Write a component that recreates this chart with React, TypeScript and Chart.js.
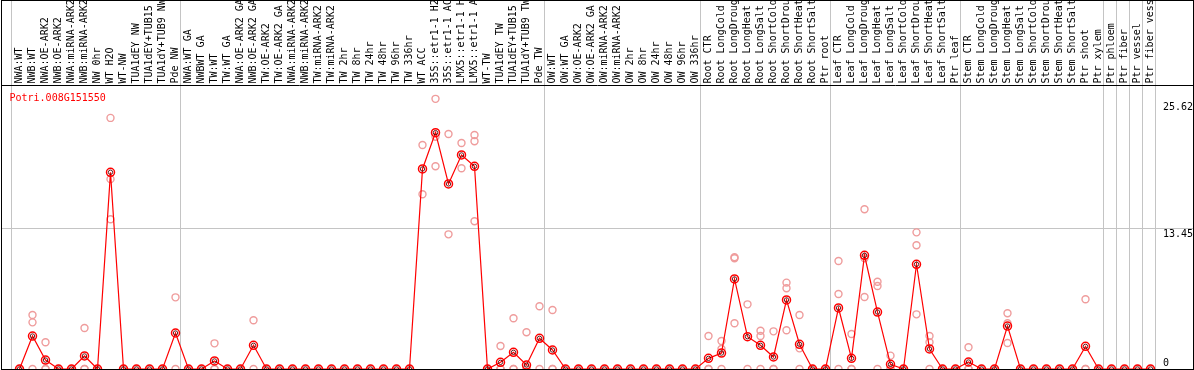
import React, { useEffect, useRef } from "react";
import { Chart, registerables } from "chart.js";

Chart.register(...registerables);

const n = null;

const geneId = "Potri.008G151550";

const categories = [
  "NWA:WT", "NWB:WT", "NWA:OE-ARK2", "NWB:OE-ARK2", "NWA:miRNA-ARK2", "NWB:miRNA-ARK2",
  "NW 0hr", "WT H2O", "WT-NW", "TUA1dEY NW", "TUA1dEY+TUB15", "TUA1dY+TUB9 NW", "Pde NW",
  "NWA:WT GA", "NWBWT GA", "TW:WT", "TW:WT GA", "NWA:OE-ARK2 GA", "NWB:OE-ARK2 GA",
  "TW:OE-ARK2", "TW:OE-ARK2 GA", "NWA:miRNA-ARK2", "NWB:miRNA-ARK2", "TW:miRNA-ARK2",
  "TW:miRNA-ARK2", "TW 2hr", "TW 8hr", "TW 24hr", "TW 48hr", "TW 96hr", "TW 336hr",
  "WT ACC", "35S::etr1-1 H2", "35S::etr1-1 AC", "LMX5::etr1-1 H", "LMX5::etr1-1 A",
  "WT-TW", "TUA1dEY TW", "TUA1dEY+TUB15", "TUA1dY+TUB9 TW", "Pde TW",
  "OW:WT", "OW:WT GA", "OW:OE-ARK2", "OW:OE-ARK2 GA", "OW:miRNA-ARK2", "OW:miRNA-ARK2",
  "OW 2hr", "OW 8hr", "OW 24hr", "OW 48hr", "OW 96hr", "OW 336hr",
  "Root CTR", "Root LongCold", "Root LongDroug", "Root LongHeat", "Root LongSalt",
  "Root ShortCold", "Root ShortDrou", "Root ShortHeat", "Root ShortSalt", "Ptr root",
  "Leaf CTR", "Leaf LongCold", "Leaf LongDroug", "Leaf LongHeat", "Leaf LongSalt",
  "Leaf ShortCold", "Leaf ShortDrou", "Leaf ShortHeat", "Leaf ShortSalt", "Ptr leaf",
  "Stem CTR", "Stem LongCold", "Stem LongDroug", "Stem LongHeat", "Stem LongSalt",
  "Stem ShortCold", "Stem ShortDrou", "Stem ShortHeat", "Stem ShortSalt", "Ptr shoot",
  "Ptr xylem", "Ptr phloem", "Ptr fiber", "Ptr vessel", "Ptr fiber vess",
];

// indices where a new group of samples starts (separator lines)
const groupBreaks = [0, 13, 41, 53, 63, 73, 84, 85, 86, 87, 88];

const meanValues = [
  0, 3.16, 0.86, 0, 0, 1.25, 0, 18.86, 0, 0,
  0, 0, 3.45, 0, 0, 0.77, 0, 0, 2.27, 0,
  0, 0, 0, 0, 0, 0, 0, 0, 0, 0,
  0, 19.18, 22.66, 17.74, 20.52, 19.43, 0, 0.64, 1.6, 0.38,
  2.94, 1.82, 0, 0, 0, 0, 0, 0, 0, 0,
  0, 0, 0, 1.02, 1.53, 8.63, 3.1, 2.27, 1.15, 6.62,
  2.37, 0, 0, 5.85, 1.02, 10.9, 5.46, 0.45, 0, 10.04,
  1.92, 0, 0, 0.67, 0, 0, 4.12, 0, 0, 0,
  0, 0, 2.17, 0, 0, 0, 0, 0,
];

const rep1 = [
  0, 5.18, 2.56, 0, 0, 3.93, 0, 24.07, 0, 0,
  0, 0, 6.87, 0, 0, 2.46, 0, 0, 4.67, 0,
  0, 0, 0, 0, 0, 0, 0, 0, 0, 0,
  0, 21.48, 25.9, 22.53, 21.67, 22.43, 0, 2.2, 4.86, 3.52,
  6.01, 5.66, 0, 0, 0, 0, 0, 0, 0, 0,
  0, 0, 0, 3.16, 2.68, 10.71, 6.2, 3.67, 3.61, 8.28,
  5.18, 0, 0, 10.35, 3.36, 15.31, 8.37, 1.28, 0, 13.1,
  3.16, 0, 0, 2.08, 0, 0, 5.34, 0, 0, 0,
  0, 0, 6.68, 0, 0, 0, 0, 0,
];

const rep2 = [
  n, 4.47, 0, n, n, 0, n, 18.2, n, n,
  n, n, 0, n, n, 0, n, n, 0, n,
  n, n, n, n, n, n, n, n, n, n,
  n, 16.75, 22.27, 12.91, 19.24, 21.83, n, 0, 0, 0,
  0, 0, n, n, n, n, n, n, n, n,
  n, n, n, 0, 1.92, 10.61, 0, 3.16, 0, 7.74,
  1.98, n, n, 7.19, 0, 10.61, 7.96, 0, n, 11.86,
  2.56, n, n, 0, n, n, 4.38, n, n, n,
  n, n, 0, n, n, n, n, n,
];

const rep3 = [
  n, 0, 0, n, n, 0, n, 14.35, n, n,
  n, n, n, n, n, 0, n, n, n, n,
  n, n, n, n, n, n, n, n, n, n,
  n, n, 19.43, n, n, 14.16, n, 0, 0, 0,
  n, 0, n, n, n, n, n, n, n, n,
  n, n, n, 0, 0, 4.38, n, 0, 0, 3.71,
  0, n, n, 0, 0, 6.9, 0, 0, n, 5.24,
  0, n, n, 0, n, n, 2.49, n, n, n,
  n, n, 0, n, n, n, n, n,
];

const yTickValues = [25.62, 13.45, 0];
const yGridValues = [13.45];
const yMax = 27.13;

const FONT = '10px "DejaVu Sans Mono", "Liberation Mono", monospace';

const overlayPlugin = {
  id: "overlay",
  beforeDatasetsDraw(chart: any) {
    const { ctx, width, height } = chart;
    const x = chart.scales.x;
    const y = chart.scales.y;
    ctx.save();
    ctx.strokeStyle = "#c4c4c4";
    ctx.lineWidth = 1;
    yGridValues.forEach((v) => {
      const py = Math.floor(y.getPixelForValue(v)) + 0.5;
      ctx.beginPath();
      ctx.moveTo(1, py);
      ctx.lineTo(width - 1, py);
      ctx.stroke();
    });
    groupBreaks.forEach((k) => {
      const px = Math.round(x.getPixelForValue(k) - 8.5) + 0.5;
      ctx.beginPath();
      ctx.moveTo(px, 0);
      ctx.lineTo(px, height - 1);
      ctx.stroke();
    });

    // rotated category labels in the header band
    ctx.save();
    ctx.beginPath();
    ctx.rect(0, 0, width, 85);
    ctx.clip();
    ctx.font = FONT;
    ctx.fillStyle = "#000";
    ctx.textAlign = "left";
    ctx.textBaseline = "alphabetic";
    categories.forEach((c, i) => {
      ctx.save();
      ctx.translate(x.getPixelForValue(i) + 2, 83.5);
      ctx.rotate(-Math.PI / 2);
      ctx.fillText(c, 0, 0);
      ctx.restore();
    });
    ctx.restore();

    // title
    ctx.font = FONT;
    ctx.fillStyle = "#ff0000";
    ctx.textAlign = "left";
    ctx.textBaseline = "alphabetic";
    ctx.fillText(geneId, 9.5, 101);

    // value labels on the right
    ctx.fillStyle = "#000";
    yTickValues.forEach((v) => {
      const py = y.getPixelForValue(v);
      const ty = v === 0 ? py - 3 : py + 8.5;
      ctx.fillText(String(v), 1163, ty);
    });
    ctx.restore();
  },
  afterDraw(chart: any) {
    const { ctx, width, height } = chart;
    ctx.save();
    ctx.strokeStyle = "#000";
    ctx.lineWidth = 1;
    ctx.strokeRect(1.5, 0.5, width - 2, height - 1);
    ctx.beginPath();
    ctx.moveTo(1.5, 85.5);
    ctx.lineTo(width - 0.5, 85.5);
    ctx.stroke();
    ctx.restore();
  },
};

export default function App() {
  const canvasRef = useRef<HTMLCanvasElement | null>(null);

  useEffect(() => {
    const canvas = canvasRef.current;
    if (!canvas) return;
    const repStyle = {
      showLine: false,
      pointRadius: 3.5,
      pointBorderWidth: 1.4,
      pointBorderColor: "#ef9c9c",
      pointBackgroundColor: "rgba(0,0,0,0)",
      clip: false as const,
    };
    const chart = new Chart(canvas, {
      type: "line",
      data: {
        labels: categories,
        datasets: [
          {
            label: "mean core",
            data: meanValues,
            showLine: false,
            pointRadius: 2.2,
            pointBorderWidth: 1,
            pointBorderColor: "rgba(70,0,0,0.85)",
            pointBackgroundColor: "rgba(0,0,0,0)",
            clip: false,
          },
          {
            label: "mean",
            data: meanValues,
            borderColor: "#ff0000",
            borderWidth: 1.2,
            tension: 0,
            pointRadius: 4,
            pointBorderWidth: 1.5,
            pointBorderColor: "#ff0000",
            pointBackgroundColor: "rgba(0,0,0,0)",
            clip: false,
          },
          { label: "rep 1", data: rep1, ...repStyle },
          { label: "rep 2", data: rep2, ...repStyle },
          { label: "rep 3", data: rep3, ...repStyle },
        ],
      },
      options: {
        animation: false,
        responsive: false,
        devicePixelRatio: 1,
        events: [],
        layout: { autoPadding: false, padding: { left: 13, right: 37, top: 86, bottom: 1 } },
        scales: {
          x: { type: "category", offset: true, display: false },
          y: { type: "linear", min: 0, max: yMax, display: false },
        },
        plugins: {
          legend: { display: false },
          tooltip: { enabled: false },
        },
      },
      plugins: [overlayPlugin],
    });
    return () => chart.destroy();
  }, []);

  return (
    <div style={{ position: "fixed", left: 0, top: 0, width: 1194, height: 370, background: "#fff" }}>
      <canvas ref={canvasRef} width={1194} height={370} style={{ width: 1194, height: 370, display: "block" }} />
    </div>
  );
}
